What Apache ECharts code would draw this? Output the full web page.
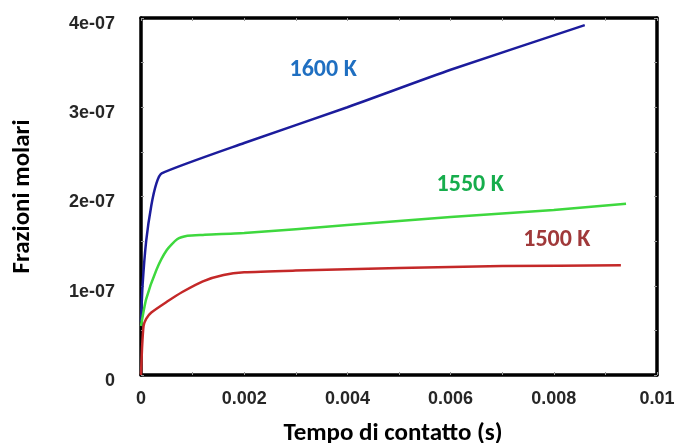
<!DOCTYPE html>
<html>
<head>
<meta charset="utf-8">
<script src="https://cdn.jsdelivr.net/npm/echarts@6/dist/echarts.min.js"></script>
<style>
  html, body { margin: 0; padding: 0; background: #fff; }
  #chart { width: 681px; height: 443px; }
</style>
</head>
<body>
<div id="chart"></div>
<script>
// contact time (s) and molar fractions
const time1600 = [0, 0.00003, 0.0001, 0.0002, 0.0003, 0.0004, 0.002, 0.004, 0.006, 0.0086]
const frac1600 = [0.6e-7, 1.0e-7, 1.5e-7, 1.9e-7, 2.15e-7, 2.26e-7, 2.6e-7, 3.0e-7, 3.42e-7, 3.92e-7]

const time1550 = [0, 0.0001, 0.0003, 0.0005, 0.0007, 0.0009, 0.0012, 0.002, 0.004, 0.006, 0.008, 0.0094]
const frac1550 = [0.55e-7, 0.85e-7, 1.18e-7, 1.4e-7, 1.52e-7, 1.56e-7, 1.57e-7, 1.59e-7, 1.68e-7, 1.77e-7, 1.85e-7, 1.92e-7]

const time1500 = [0, 0.00002, 0.00005, 0.0001, 0.0002, 0.0005, 0.0008, 0.0012, 0.0016, 0.002, 0.003, 0.005, 0.007, 0.0093]
const frac1500 = [0, 0.3e-7, 0.55e-7, 0.63e-7, 0.7e-7, 0.82e-7, 0.93e-7, 1.05e-7, 1.12e-7, 1.15e-7, 1.17e-7, 1.2e-7, 1.22e-7, 1.23e-7]

const seriesNames = ['1600 K', '1550 K', '1500 K']
const labelAt = [[0.00353, 3.42e-7], [0.00638, 2.13e-7], [0.00806, 1.51e-7]]

const xTicks = [0, 0.002, 0.004, 0.006, 0.008, 0.01]
const yTicks = [0, 1e-7, 2e-7, 3e-7, 4e-7]

const lineColors = ['#1c1c9c', '#3ed83e', '#c42828']
const textColors = ['#1f6fc1', '#16ad4c', '#a0393a']
const calibri = 'Carlito, Lato, "Open Sans", sans-serif'

const chart = echarts.init(document.getElementById('chart'))

const pairs = (xs, ys) => xs.map((x, i) => [x, ys[i]])
const data = [pairs(time1600, frac1600), pairs(time1550, frac1550), pairs(time1500, frac1500)]

const xBase = {
  type: 'value', min: xTicks[0], max: xTicks[xTicks.length - 1], interval: 0.002,
  splitLine: { show: false },
  axisLine: { show: true, onZero: false, lineStyle: { color: '#000', width: 3.5 } },
  axisTick: { show: true, inside: true, length: 3, lineStyle: { color: '#999' } },
  minorTick: { show: true, splitNumber: 2, length: 3, lineStyle: { color: '#999' } },
}
const yBase = {
  type: 'value', min: yTicks[0], max: yTicks[yTicks.length - 1], interval: 1e-7,
  splitLine: { show: false },
  axisLine: { show: true, onZero: false, lineStyle: { color: '#000', width: 3.5 } },
  axisTick: { show: true, inside: true, length: 3, lineStyle: { color: '#999' } },
  minorTick: { show: true, splitNumber: 2, length: 3, lineStyle: { color: '#999' } },
}

chart.setOption({
  animation: false,
  backgroundColor: '#fff',
  grid: { left: 141, right: 24, top: 18, bottom: 68, outerBoundsMode: 'none', containLabel: false },
  xAxis: [
    {
      ...xBase, position: 'bottom',
      name: 'Tempo di contatto (s)', nameLocation: 'middle', nameGap: 46,
      nameTextStyle: { fontFamily: calibri, fontWeight: 'bold', fontSize: 25, color: '#000', padding: [0, 12, 0, 0] },
      axisLabel: {
        margin: 15, fontFamily: '"Liberation Sans", Arial, sans-serif', fontWeight: 'bold', fontSize: 18, color: '#262626',
        formatter: v => String(+v.toFixed(3)),
      },
    },
    { ...xBase, position: 'top', axisLabel: { show: false } },
  ],
  yAxis: [
    {
      ...yBase, position: 'left',
      name: 'Frazioni molari', nameLocation: 'middle', nameGap: 106, nameRotate: 90,
      nameTextStyle: { fontFamily: calibri, fontWeight: 'bold', fontSize: 25, color: '#000' },
      axisLabel: {
        margin: 26, fontFamily: '"Liberation Sans", Arial, sans-serif', fontWeight: 'bold', fontSize: 18, color: '#262626',
        verticalAlign: 'top', lineHeight: 12,
        formatter: v => v === 0 ? '0' : Math.round(v * 1e7) + 'e-07',
      },
    },
    { ...yBase, position: 'right', axisLabel: { show: false } },
  ],
  series: data.map((d, i) => ({
    name: seriesNames[i],
    type: 'line',
    data: d,
    showSymbol: false,
    smooth: 0.2,
    lineStyle: { color: lineColors[i], width: 2.5 },
    markPoint: {
      symbol: 'circle', symbolSize: 0,
      label: { show: true, position: 'inside', formatter: seriesNames[i], fontFamily: calibri, fontWeight: 'bold', fontSize: 24, color: textColors[i] },
      data: [{ coord: labelAt[i] }],
    },
  })),
})
</script>
</body>
</html>
